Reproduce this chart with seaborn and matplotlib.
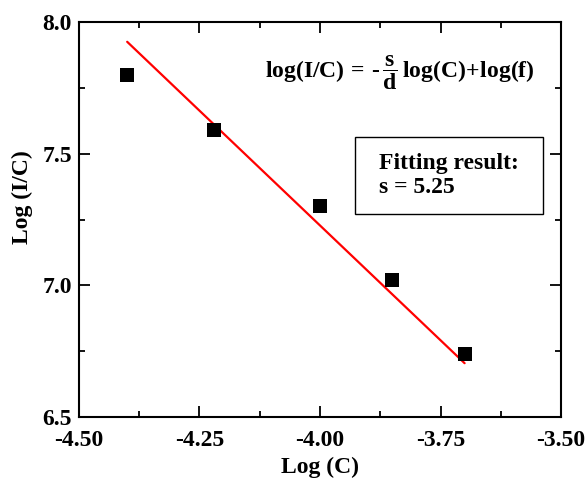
import matplotlib
matplotlib.use("Agg")
import matplotlib.pyplot as plt
import seaborn as sns
import pandas as pd
from matplotlib.patches import Rectangle
from matplotlib.ticker import MultipleLocator, FormatStrFormatter

log_c = [-4.40, -4.22, -4.00, -3.85, -3.70]
log_ic = [7.80, 7.59, 7.30, 7.02, 6.74]
fit_x = [-4.40, -3.70]
fit_y = [7.925, 6.705]
x_ticks = [-4.50, -4.25, -4.00, -3.75, -3.50]
y_ticks = [6.5, 7.0, 7.5, 8.0]

sns.set_theme(style="ticks")
plt.rcParams['font.family'] = ['Liberation Serif', 'DejaVu Serif']
plt.rcParams['font.weight'] = 'bold'
plt.rcParams['text.color'] = 'black'
plt.rcParams['axes.labelcolor'] = 'black'
plt.rcParams['mathtext.fontset'] = 'custom'
plt.rcParams['mathtext.rm'] = 'Liberation Serif:bold'
plt.rcParams['mathtext.it'] = 'Liberation Serif:bold'
plt.rcParams['mathtext.bf'] = 'Liberation Serif:bold'

df = pd.DataFrame({"x": log_c, "y": log_ic})
fit = pd.DataFrame({"x": fit_x, "y": fit_y})

fig = plt.figure(figsize=(5.85, 4.79), dpi=100)
ax = fig.add_axes([0.135, 0.129, 0.824, 0.825])

sns.lineplot(data=fit, x="x", y="y", color="#ff0000", linewidth=1.6, ax=ax)
sns.scatterplot(data=df, x="x", y="y", marker="s", s=100, color="black",
                edgecolor="black", linewidth=0, ax=ax, zorder=3)

ax.set_xlim(-4.5, -3.5)
ax.set_ylim(6.5, 8.0)
ax.set_xticks(x_ticks)
ax.set_yticks(y_ticks)
ax.xaxis.set_minor_locator(MultipleLocator(0.125))
ax.yaxis.set_minor_locator(MultipleLocator(0.25))
ax.xaxis.set_major_formatter(FormatStrFormatter('%.2f'))
ax.yaxis.set_major_formatter(FormatStrFormatter('%.1f'))
ax.tick_params(which='both', direction='in', top=True, right=True,
               labelsize=17, width=1.3, colors='black')
ax.tick_params(axis='x', which='major', pad=9)
ax.tick_params(axis='y', which='major', pad=5)
ax.tick_params(which='major', length=8)
ax.tick_params(which='minor', length=4)
for lab in ax.get_xticklabels() + ax.get_yticklabels():
    lab.set_fontweight('bold')
for sp in ax.spines.values():
    sp.set_linewidth(1.5)
    sp.set_color('black')

ax.set_xlabel("Log (C)", fontsize=17, fontweight='bold')
ax.set_ylabel("Log (I/C)", fontsize=17, fontweight='bold')
ax.xaxis.set_label_coords(0.5, -0.1)
ax.yaxis.set_label_coords(-0.095, 0.558)

ax.text(0.946, 0.859,
        r'$\mathrm{log(I/C)}\,\mathbf{=}\,\text{-}\,\dfrac{s}{d}\,\mathrm{log(C)}\!+\!\mathrm{log(f)}$',
        transform=ax.transAxes, ha='right', va='baseline', fontsize=17)

ax.add_patch(Rectangle((0.572, 0.513), 0.391, 0.197, transform=ax.transAxes,
                       facecolor='white', edgecolor='black', linewidth=1, zorder=4))
ax.text(0.622, 0.612, "Fitting result:\ns = 5.25", transform=ax.transAxes,
        ha='left', va='center', fontsize=17, fontweight='bold', linespacing=1.22,
        zorder=5)

fig.savefig("out.png", dpi=100)
